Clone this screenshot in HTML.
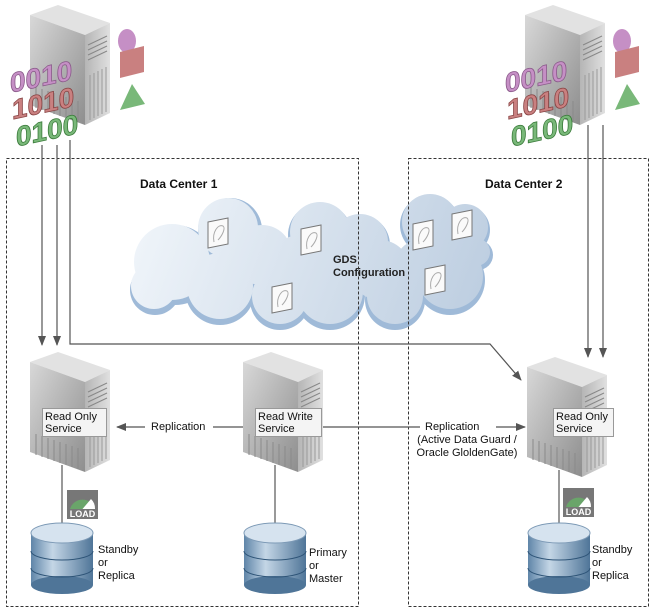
<!DOCTYPE html>
<html><head><meta charset="utf-8"><style>
html,body{margin:0;padding:0;background:#fff;}
svg{display:block;font-family:"Liberation Sans",Arial,sans-serif;}
</style></head><body>
<svg width="654" height="612" viewBox="0 0 654 612" xmlns="http://www.w3.org/2000/svg">
<defs>
<linearGradient id="fr" x1="0" y1="0" x2="1" y2="1"><stop offset="0" stop-color="#d8d8d8"/><stop offset="1" stop-color="#8e8e8e"/></linearGradient>
<linearGradient id="sd" x1="0" y1="0" x2="1" y2="0"><stop offset="0" stop-color="#b5b5b5"/><stop offset="1" stop-color="#e0e0e0"/></linearGradient>
<linearGradient id="db" x1="0" y1="0" x2="1" y2="0"><stop offset="0" stop-color="#5f85a8"/><stop offset="0.35" stop-color="#c4d6e6"/><stop offset="1" stop-color="#4f7598"/></linearGradient>
<linearGradient id="cl" gradientUnits="userSpaceOnUse" x1="140" y1="200" x2="480" y2="330"><stop offset="0" stop-color="#f0f5fa"/><stop offset="1" stop-color="#bccde0"/></linearGradient>
<marker id="ar" markerWidth="10" markerHeight="8" refX="9" refY="4" orient="auto" markerUnits="userSpaceOnUse"><path d="M0,0 L10,4 L0,8 z" fill="#555"/></marker>
<g id="srv">
<polygon points="0,10 28,0 80,18 55,30" fill="#e2e2e2"/>
<polygon points="0,10 55,30 55,120 0,100" fill="url(#fr)"/>
<polygon points="55,30 80,18 80,108 55,120" fill="url(#sd)"/>
<g stroke="#888" stroke-width="1"><line x1="58" y1="40" x2="77" y2="31"/><line x1="58" y1="45" x2="77" y2="36"/><line x1="58" y1="50" x2="77" y2="41"/><line x1="58" y1="55" x2="77" y2="46"/></g>
<g stroke="#9a9a9a" stroke-width="1"><line x1="60" y1="70" x2="60" y2="115"/><line x1="64" y1="68" x2="64" y2="113"/><line x1="68" y1="66" x2="68" y2="111"/><line x1="72" y1="64" x2="72" y2="109"/><line x1="76" y1="62" x2="76" y2="107"/></g>
<g stroke="#8a8a8a" stroke-width="1"><line x1="6" y1="82" x2="6" y2="103"/><line x1="12" y1="84" x2="12" y2="105"/><line x1="18" y1="86" x2="18" y2="107"/><line x1="24" y1="88" x2="24" y2="109"/><line x1="30" y1="90" x2="30" y2="111"/><line x1="36" y1="92" x2="36" y2="113"/><line x1="42" y1="94" x2="42" y2="115"/><line x1="48" y1="96" x2="48" y2="117"/></g>
</g>
<g id="dbs">
<rect x="0" y="10" width="62" height="52" fill="url(#db)"/>
<ellipse cx="31" cy="62" rx="31" ry="9" fill="#4f7598"/>
<path d="M0,28 A31,9 0 0 0 62,28" fill="none" stroke="#2f5578" stroke-width="1"/>
<path d="M0,45 A31,9 0 0 0 62,45" fill="none" stroke="#2f5578" stroke-width="1"/>
<ellipse cx="31" cy="10" rx="31" ry="10" fill="#d6e3ef" stroke="#7d9ab6"/>
</g>
<g id="load">
<rect x="0" y="0" width="31" height="29" fill="#777"/>
<path d="M3,19 A13,13 0 0 1 28,19 Z" fill="#6aa56a"/>
<path d="M15.5,19 L24,9 A13,13 0 0 1 28,19 Z" fill="#fff"/>
<text x="15.5" y="27" font-size="9" font-weight="bold" fill="#fff" text-anchor="middle">LOAD</text>
</g>
<g id="doc">
<polygon points="0,4 20,0 20,26 0,30" fill="#fafafa" stroke="#777"/>
<path d="M6,24 C4,14 10,6 15,8 C18,10 14,18 10,22" fill="none" stroke="#aaa"/>
</g>
<g id="top">
<use href="#srv" x="30" y="5"/>
<ellipse cx="127" cy="41" rx="9" ry="12" fill="#c58fc5"/>
<polygon points="120,52 144,46 144,72 120,78" fill="#c98080"/>
<polygon points="120,110 132,84 145,104" fill="#79b879"/>
<g font-size="28" font-weight="bold" transform="skewY(-12)">
<text x="10" y="95" fill="#c58fc5" stroke="#8a5a8a" stroke-width="0.8">0010</text>
<text x="12" y="122" fill="#c98080" stroke="#844" stroke-width="0.8">1010</text>
<text x="16" y="150" fill="#79b879" stroke="#3a7a3a" stroke-width="0.8">0100</text>
</g>
</g>
</defs>

<!-- clouds -->
<g fill="#9fbad8">
<circle cx="175" cy="265" r="40"/><circle cx="230" cy="230" r="32"/><circle cx="155" cy="290" r="25"/><circle cx="220" cy="290" r="35"/><circle cx="280" cy="300" r="30"/>
<circle cx="320" cy="235" r="32"/><circle cx="360" cy="245" r="30"/><circle cx="330" cy="295" r="35"/><circle cx="395" cy="300" r="30"/>
<circle cx="430" cy="225" r="30"/><circle cx="465" cy="230" r="25"/><circle cx="450" cy="280" r="35"/><circle cx="478" cy="255" r="15"/>
</g>
<g fill="url(#cl)">
<circle cx="172" cy="262" r="38"/><circle cx="228" cy="228" r="30"/><circle cx="154" cy="286" r="23"/><circle cx="220" cy="286" r="33"/><circle cx="280" cy="296" r="28"/><circle cx="262" cy="255" r="30"/>
<circle cx="320" cy="232" r="30"/><circle cx="360" cy="242" r="28"/><circle cx="330" cy="291" r="33"/><circle cx="395" cy="296" r="28"/><circle cx="380" cy="270" r="30"/><circle cx="300" cy="265" r="30"/><circle cx="420" cy="265" r="25"/>
<circle cx="430" cy="222" r="28"/><circle cx="465" cy="227" r="23"/><circle cx="450" cy="276" r="33"/><circle cx="476" cy="252" r="14"/>
</g>
<use href="#doc" x="208" y="218"/>
<use href="#doc" x="301" y="225"/>
<use href="#doc" x="272" y="283"/>
<use href="#doc" x="413" y="220"/>
<use href="#doc" x="452" y="210"/>
<use href="#doc" x="425" y="265"/>
<text x="333" y="263" font-size="11" font-weight="bold" fill="#222">GDS</text>
<text x="333" y="276" font-size="11" font-weight="bold" fill="#222">Configuration</text>

<!-- data centers -->
<rect x="6.5" y="158.5" width="352" height="448" fill="none" stroke="#333" stroke-dasharray="3,2"/>
<rect x="408.5" y="158.5" width="240" height="448" fill="none" stroke="#333" stroke-dasharray="3,2"/>
<text x="140" y="188" font-size="12" font-weight="bold" fill="#111">Data Center 1</text>
<text x="485" y="188" font-size="12" font-weight="bold" fill="#111">Data Center 2</text>

<use href="#top" x="0" y="0"/>
<use href="#top" x="495" y="0"/>

<g stroke="#555" stroke-width="1.2" fill="none">
<line x1="42" y1="145" x2="42" y2="345" marker-end="url(#ar)"/>
<line x1="57" y1="145" x2="57" y2="345" marker-end="url(#ar)"/>
<polyline points="70,140 70,344 490,344 521,380" marker-end="url(#ar)"/>
<line x1="588" y1="125" x2="588" y2="357" marker-end="url(#ar)"/>
<line x1="603" y1="125" x2="603" y2="357" marker-end="url(#ar)"/>
</g>

<use href="#srv" x="30" y="352"/>
<use href="#srv" x="243" y="352"/>
<use href="#srv" x="527" y="357"/>
<g font-size="11" fill="#111">
<rect x="42.5" y="408.5" width="64" height="28" fill="#f4f4f4" stroke="#999"/>
<text x="45" y="420">Read Only</text><text x="45" y="432">Service</text>
<rect x="255.5" y="408.5" width="66" height="28" fill="#f4f4f4" stroke="#999"/>
<text x="258" y="420">Read Write</text><text x="258" y="432">Service</text>
<rect x="553.5" y="408.5" width="60" height="28" fill="#f4f4f4" stroke="#999"/>
<text x="556" y="420">Read Only</text><text x="556" y="432">Service</text>
</g>

<g stroke="#555" stroke-width="1.2" fill="none">
<line x1="145" y1="427" x2="117" y2="427" marker-end="url(#ar)"/>
<line x1="243" y1="427" x2="213" y2="427"/>
<line x1="323" y1="427" x2="420" y2="427"/>
<line x1="496" y1="427" x2="525" y2="427" marker-end="url(#ar)"/>
<line x1="62" y1="465" x2="62" y2="525"/>
<line x1="275" y1="465" x2="275" y2="525"/>
<line x1="559" y1="470" x2="559" y2="525"/>
</g>
<g font-size="11" fill="#111">
<text x="151" y="430">Replication</text>
<text x="425" y="430">Replication</text>
<text x="467" y="443" text-anchor="middle">(Active Data Guard /</text>
<text x="467" y="456" text-anchor="middle">Oracle GloldenGate)</text>
</g>

<use href="#load" x="67" y="490"/>
<use href="#load" x="563" y="488"/>

<use href="#dbs" x="31" y="523"/>
<use href="#dbs" x="244" y="523"/>
<use href="#dbs" x="528" y="523"/>
<g font-size="11" fill="#111">
<text x="98" y="553">Standby</text><text x="98" y="566">or</text><text x="98" y="579">Replica</text>
<text x="309" y="556">Primary</text><text x="309" y="569">or</text><text x="309" y="582">Master</text>
<text x="592" y="553">Standby</text><text x="592" y="566">or</text><text x="592" y="579">Replica</text>
</g>
</svg>
</body></html>
